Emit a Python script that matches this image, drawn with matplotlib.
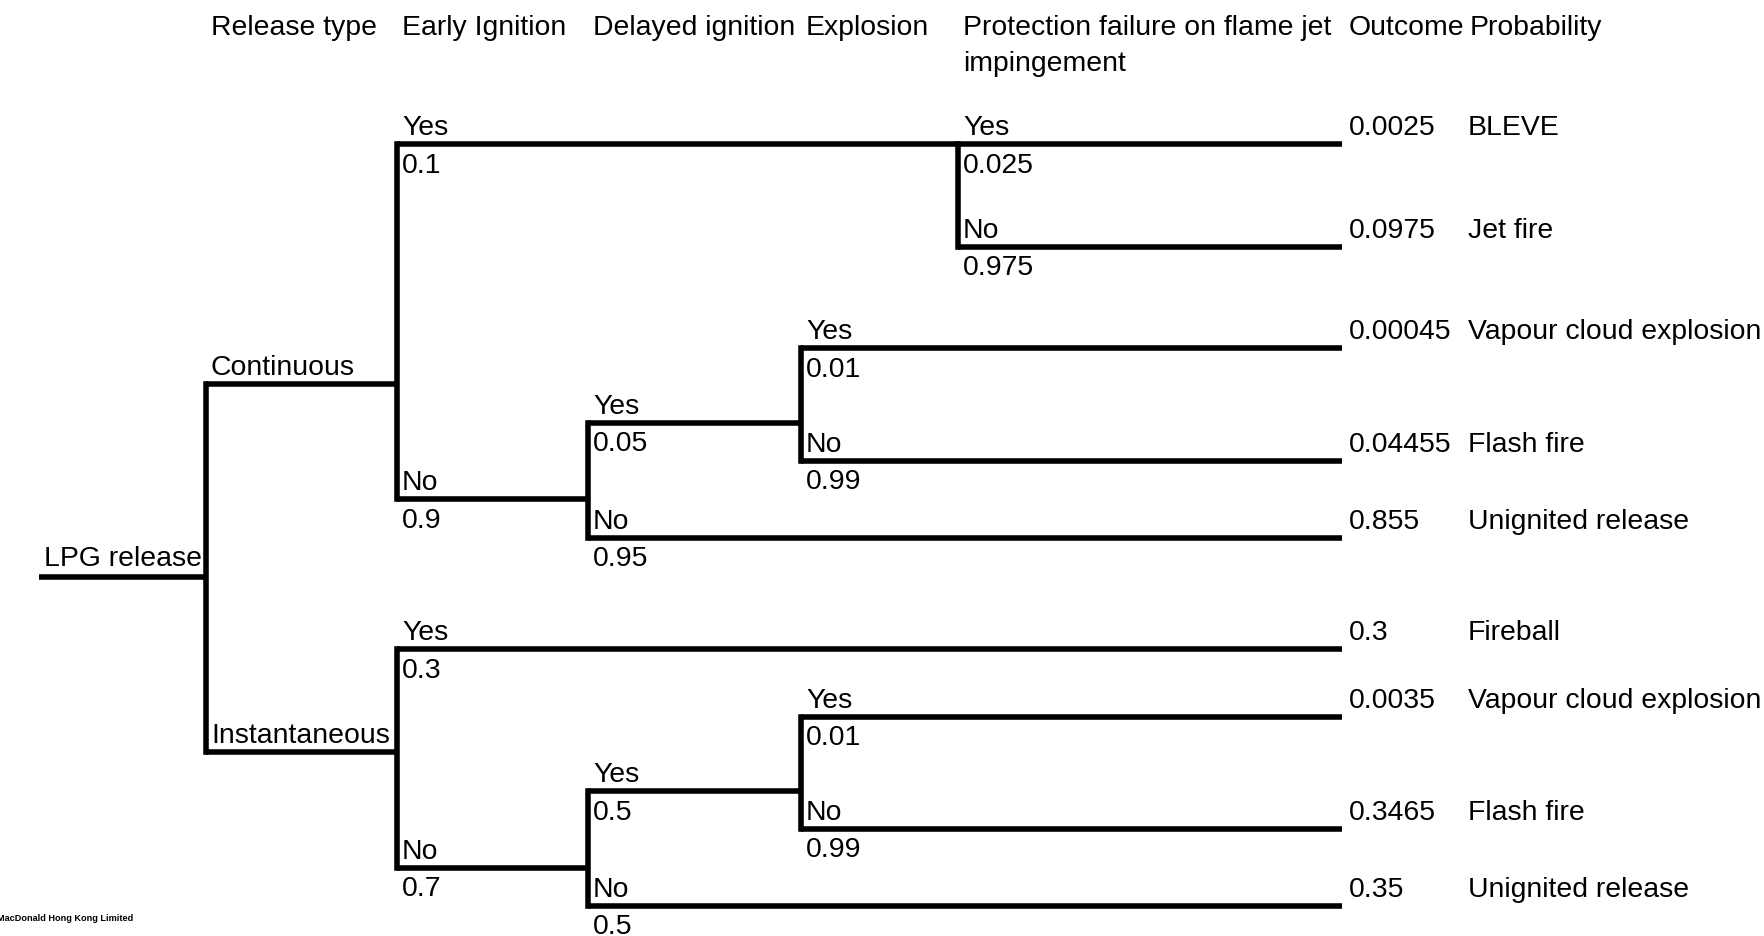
import matplotlib.pyplot as plt

plt.rcParams["font.family"] = ["Liberation Sans", "DejaVu Sans"]

# data
headers = ["Release type", "Early Ignition", "Delayed ignition", "Explosion",
           "Protection failure on flame jet\nimpingement"]
header_out = ["Outcome", "Probability"]
root_label = "LPG release"

# branches: parent, stage (column where it splits off), label, probability
branch_parent = [-1, 0, 0, 1, 1, 3, 3, 4, 4, 7, 7, 2, 2, 12, 12, 13, 13]
branch_stage = [-1, 0, 0, 1, 1, 4, 4, 2, 2, 3, 3, 1, 1, 2, 2, 3, 3]
branch_label = [root_label, "Continuous", "Instantaneous", "Yes", "No", "Yes", "No",
                "Yes", "No", "Yes", "No", "Yes", "No", "Yes", "No", "Yes", "No"]
branch_prob = ["", "", "", "0.1", "0.9", "0.025", "0.975", "0.05", "0.95",
               "0.01", "0.99", "0.3", "0.7", "0.5", "0.5", "0.01", "0.99"]

# leaves top to bottom with outcome frequency and name
leaf_branch = [5, 6, 9, 10, 8, 11, 15, 16, 14]
outcome_freq = ["0.0025", "0.0975", "0.00045", "0.04455", "0.855",
                "0.3", "0.0035", "0.3465", "0.35"]
outcome_name = ["BLEVE", "Jet fire", "Vapour cloud explosion", "Flash fire",
                "Unignited release", "Fireball", "Vapour cloud explosion",
                "Flash fire", "Unignited release"]

# layout (pixels)
start_x = 39
col_x = [206, 397, 588, 801, 958]
end_x = 1342
branch_y = [577, 384, 751.7, 144.3, 499, 144.3, 246.7, 422.7, 538, 348.3, 460.7,
            649, 867.7, 791, 905.7, 716.7, 828.7]

fs = 20.4
lw = 4

fig = plt.figure(figsize=(17.64, 9.36), dpi=100)
ax = fig.add_axes([0, 0, 1, 1])
ax.set_xlim(0, 1764)
ax.set_ylim(936, 0)
ax.axis("off")

n = len(branch_parent)
for b in range(n):
    kids = [k for k in range(n) if branch_parent[k] == b]
    x0 = start_x if branch_stage[b] < 0 else col_x[branch_stage[b]]
    x1 = col_x[branch_stage[kids[0]]] if kids else end_x
    y = branch_y[b]
    ax.plot([x0, x1], [y, y], color="black", lw=lw, solid_capstyle="butt")
    if kids:
        ys = [branch_y[k] for k in kids]
        ax.plot([x1, x1], [min(ys), max(ys)], color="black", lw=lw,
                solid_capstyle="projecting")
    # labels
    if b == 0:
        ax.text(x0 + 5, y - 11, branch_label[b], fontsize=fs, va="baseline")
    else:
        ax.text(x0 + 5, y - 9, branch_label[b], fontsize=fs, va="baseline")
        if branch_prob[b]:
            ax.text(x0 + 5, y + 28.5, branch_prob[b], fontsize=fs, va="baseline")

for i, b in enumerate(leaf_branch):
    y = branch_y[b]
    ax.text(1349, y - 9, outcome_freq[i], fontsize=fs, va="baseline")
    ax.text(1468, y - 9, outcome_name[i], fontsize=fs, va="baseline")

# headers, one text per line
for i, h in enumerate(headers):
    for j, line in enumerate(h.split("\n")):
        ax.text(col_x[i] + 5, 35 + j * 35.7, line, fontsize=fs, va="baseline")
ax.text(1349, 35, header_out[0], fontsize=fs, va="baseline")
ax.text(1470, 35, header_out[1], fontsize=fs, va="baseline")

ax.text(133, 921, "Mott MacDonald Hong Kong Limited", fontsize=6.6, fontweight="bold",
        ha="right", va="baseline")

fig.savefig("out.png", dpi=100)
